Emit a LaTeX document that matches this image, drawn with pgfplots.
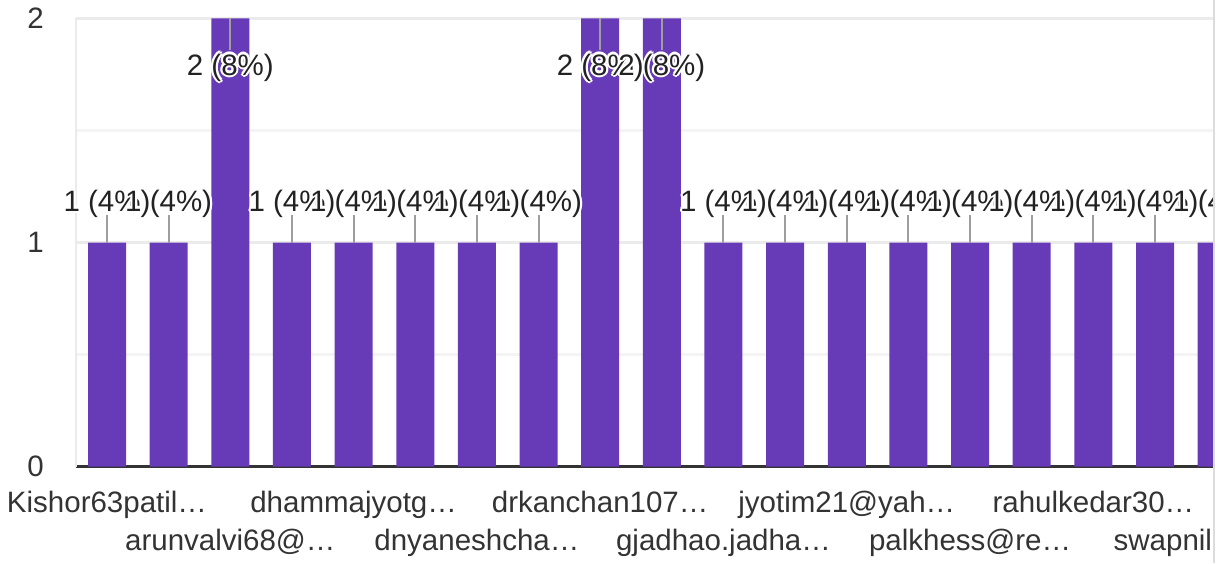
\documentclass[border=0pt]{standalone}
\usepackage{pgfplots}
\pgfplotsset{compat=1.18}
\usepackage{pgfplotstable}
\usepackage{fontspec}
\setmainfont{Liberation Sans}

\definecolor{barpurple}{HTML}{673AB7}
\definecolor{leadgray}{HTML}{9E9E9E}
\definecolor{gridgray}{HTML}{EBEBEB}
\definecolor{minorgray}{HTML}{F4F4F4}
\definecolor{txt}{HTML}{222222}
\definecolor{ticktxt}{HTML}{333333}
\definecolor{edgegray}{HTML}{DADCE0}

\newcommand\chartfont{\fontsize{29.5}{35}\selectfont}

% label text with a white halo round the glyphs
\newcommand\halo[1]{\leavevmode
  \rlap{\color{white}\hspace{2.2pt}#1}%
  \rlap{\color{white}\hspace{-2.2pt}#1}%
  \rlap{\color{white}\raisebox{2.2pt}{#1}}%
  \rlap{\color{white}\raisebox{-2.2pt}{#1}}%
  \rlap{\color{white}\hspace{1.6pt}\raisebox{1.6pt}{#1}}%
  \rlap{\color{white}\hspace{-1.6pt}\raisebox{1.6pt}{#1}}%
  \rlap{\color{white}\hspace{1.6pt}\raisebox{-1.6pt}{#1}}%
  \rlap{\color{white}\hspace{-1.6pt}\raisebox{-1.6pt}{#1}}%
  {\color{txt}#1}}

% x = answer index, y = count, pct = share, ep/em = leader line length
\pgfplotstableread{
x  y  pct ep    em
0  1  4   0.123 0
1  1  4   0.123 0
2  2  8   0     0.141
3  1  4   0.123 0
4  1  4   0.123 0
5  1  4   0.123 0
6  1  4   0.123 0
7  1  4   0.123 0
8  2  8   0     0.141
9  2  8   0     0.141
10 1  4   0.123 0
11 1  4   0.123 0
12 1  4   0.123 0
13 1  4   0.123 0
14 1  4   0.123 0
15 1  4   0.123 0
16 1  4   0.123 0
17 1  4   0.123 0
18 1  4   0.123 0
}\responses

\begin{document}
\begin{tikzpicture}
\path[use as bounding box] (0pt,0pt) rectangle (1228pt,563pt);
\begin{axis}[
  at={(75.5pt,96.5pt)}, anchor=south west,
  scale only axis, width=1172pt, height=448pt,
  xmin=-0.511, xmax=18.5, ymin=0, ymax=2,
  clip=false,
  axis x line*=bottom, axis y line*=left,
  x axis line style={-, draw=black!80, line width=3pt},
  y axis line style={-, draw=gridgray, line width=2pt},
  major tick length=0pt, minor tick length=0pt,
  ytick={0,1,2}, minor ytick={0.5,1.5},
  ymajorgrids, yminorgrids,
  major grid style={gridgray, line width=2.5pt},
  minor grid style={minorgray, line width=2.5pt},
  xtick={0,2,...,18},
  xticklabels={Kishor63patil…, \raisebox{-38.3pt}{arunvalvi68@…},
    dhammajyotg…, \raisebox{-38.3pt}{dnyaneshcha…},
    drkanchan107…, \raisebox{-38.3pt}{gjadhao.jadha…},
    jyotim21@yah…, \raisebox{-38.3pt}{palkhess@re…},
    rahulkedar30…, \raisebox{-38.3pt}{\makebox[206pt][l]{swapnil}}},
  xticklabel style={anchor=base, inner sep=0pt, yshift=-45.5pt, font=\chartfont, text=ticktxt},
  yticklabel style={anchor=east, inner sep=0pt, xshift=-31.5pt, font=\chartfont, text=ticktxt},
  /pgf/number format/assume math mode=true,
]
\addplot[ybar, bar width=38pt, fill=barpurple, draw=none,
  point meta=explicit symbolic,
  visualization depends on={y \as \yv},
  nodes near coords={\halo{\pgfmathprintnumber{\yv}\ (\pgfplotspointmeta\%)}},
  nodes near coords style={anchor=base, inner sep=0pt,
    yshift={31.5-88*(\yv>1.5)}, font=\chartfont},
  error bars/.cd, y dir=both, y explicit, error mark=none,
  error bar style={leadgray, line width=2pt}]
  table[x=x, y=y, meta=pct, y error plus=ep, y error minus=em] {\responses};
\end{axis}
% right edge of the cropped chart
\fill[white] (1213pt,0pt) rectangle (1228pt,563pt);
\fill[edgegray] (1212.5pt,0pt) rectangle (1215pt,563pt);
\end{tikzpicture}
\end{document}
